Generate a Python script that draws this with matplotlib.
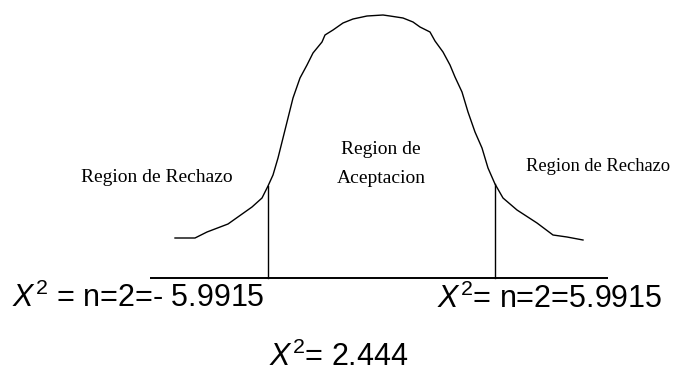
import matplotlib
matplotlib.use("Agg")
import matplotlib.pyplot as plt

plt.rcParams['mathtext.fontset'] = 'custom'
plt.rcParams['mathtext.rm'] = 'Liberation Sans'
plt.rcParams['mathtext.it'] = 'Liberation Sans:italic'

# Curve: horizontal position and height above the baseline
curve_x = [175, 195, 207, 228, 252, 262, 268, 273, 278, 283, 288, 293, 300, 307, 313, 322, 325,
           333, 343, 353, 367, 383,
           390, 403, 413, 420, 430, 435, 443, 450, 455, 462, 468, 475, 482, 488, 495, 503,
           517, 537, 553, 567, 583]
curve_h = [40, 40, 46, 54, 71, 80, 92, 103, 120, 140, 160, 180, 200, 213, 225, 236, 243,
           248, 255, 259, 262, 263,
           262, 260, 256, 251, 246, 237, 226, 213, 201, 186, 166, 146, 130, 110, 94, 80,
           68, 55, 43, 41, 38]

# Critical values (positions on the axis) and their curve heights
crit_x = [268, 495]
crit_h = [92, 94]
axis_range = [150, 608]

region_labels = ["Region de Rechazo", "Region de\nAceptacion", "Region de Rechazo"]
crit_labels = ["$X^2$ = n=2=- 5.9915", "$X^2$= n=2=5.9915"]
stat_label = "$X^2$= 2.444"

fig = plt.figure(figsize=(6.73, 3.73), dpi=100)
ax = fig.add_axes([0, 0, 1, 1])
ax.set_xlim(0, 673)
ax.set_ylim(278 - 373, 278)
ax.axis('off')

ax.plot(curve_x, curve_h, color='black', lw=1.0)
ax.plot(axis_range, [0, 0], color='black', lw=1.4, solid_capstyle='butt')
for x, h in zip(crit_x, crit_h):
    ax.plot([x, x], [0, h], color='black', lw=1.0)

serif = dict(family='Liberation Serif', color='black')
ax.text(157, 96, region_labels[0], ha='center', va='baseline', fontsize=14, **serif)
ax.text(381, 95, region_labels[1], ha='center', va='baseline', linespacing=1.9,
        fontsize=14, **serif)
ax.text(598, 107, region_labels[2], ha='center', va='baseline', fontsize=13.3, **serif)

sans = dict(family='Liberation Sans', fontsize=22, color='black')
ax.text(12, -29, crit_labels[0], ha='left', va='baseline', **sans)
ax.text(663, -30, crit_labels[1], ha='right', va='baseline', **sans)
ax.text(339, -88, stat_label, ha='center', va='baseline', **sans)

fig.savefig('out.png', dpi=100, facecolor='white')
